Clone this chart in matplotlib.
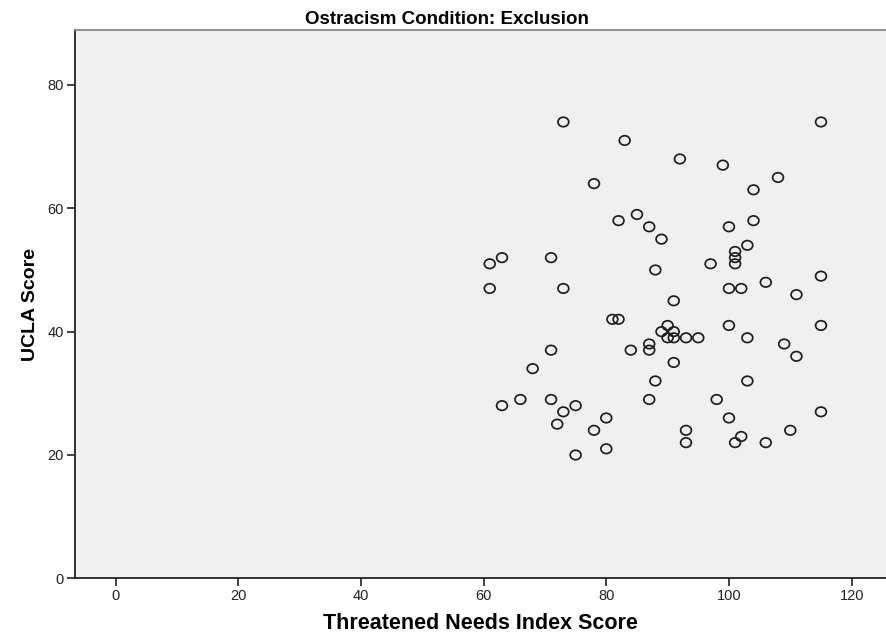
import numpy as np
import matplotlib as mpl
mpl.use('Agg')
import matplotlib.pyplot as plt
from matplotlib.path import Path

mpl.rcParams['font.family'] = ['Liberation Sans', 'DejaVu Sans']

# Threatened needs index vs UCLA loneliness score, exclusion group
needs = [73, 115, 83, 92, 99, 108, 78, 104, 85, 82, 104, 87, 100, 89, 103,
         101, 101, 101, 61, 63, 71, 97, 88, 115, 106, 61, 73, 100, 102, 111,
         91, 81, 82, 90, 100, 115, 89, 91, 90, 91, 93, 95, 103, 87, 109,
         71, 84, 87, 111, 91, 68, 88, 103, 66, 71, 87, 98, 63, 75, 73,
         115, 80, 100, 72, 78, 93, 110, 102, 93, 101, 106, 80, 75]
ucla = [74, 74, 71, 68, 67, 65, 64, 63, 59, 58, 58, 57, 57, 55, 54,
        53, 52, 51, 51, 52, 52, 51, 50, 49, 48, 47, 47, 47, 47, 46,
        45, 42, 42, 41, 41, 41, 40, 40, 39, 39, 39, 39, 39, 38, 38,
        37, 37, 37, 36, 35, 34, 32, 32, 29, 29, 29, 29, 28, 28, 27,
        27, 26, 26, 25, 24, 24, 24, 23, 22, 22, 22, 21, 20]

xticks = [0, 20, 40, 60, 80, 100, 120]
yticks = [0, 20, 40, 60, 80]

# slightly flattened open circle
circ = Path.unit_circle()
oval = Path(circ.vertices * np.array([1.0, 0.88]), circ.codes)

fig = plt.figure(figsize=(8.86, 6.44), dpi=100)
ax = fig.add_axes([0.0847, 0.102, 0.9153, 0.8513])
ax.set_facecolor('#f0f0f0')

ax.scatter(needs, ucla, marker=oval, s=60, facecolors='none',
           edgecolors='#1e1e1e', linewidths=1.25, zorder=3)

ax.set_xlim(-6.6, 125.6)
ax.set_ylim(0, 88.9)
ax.set_xticks(xticks)
ax.set_yticks(yticks)
ax.tick_params(direction='out', length=6, width=1.2, color='#222222',
               labelsize=10.5, labelcolor='#222222', pad=2)

for s in ['left', 'bottom']:
    ax.spines[s].set_color('#222222')
    ax.spines[s].set_linewidth(1.3)
ax.spines['top'].set_color('#888888')
ax.spines['top'].set_linewidth(1.3)
ax.spines['right'].set_visible(False)

fig.text(447 / 886, 1 - 24 / 644, 'Ostracism Condition: Exclusion',
         fontsize=13.5, fontweight='bold', ha='center', va='baseline')
ax.set_xlabel('Threatened Needs Index Score', fontsize=15.5,
              fontweight='bold', labelpad=7)
ax.set_ylabel('UCLA Score', fontsize=14, fontweight='bold', labelpad=6)

fig.savefig('out.png', dpi=100)
